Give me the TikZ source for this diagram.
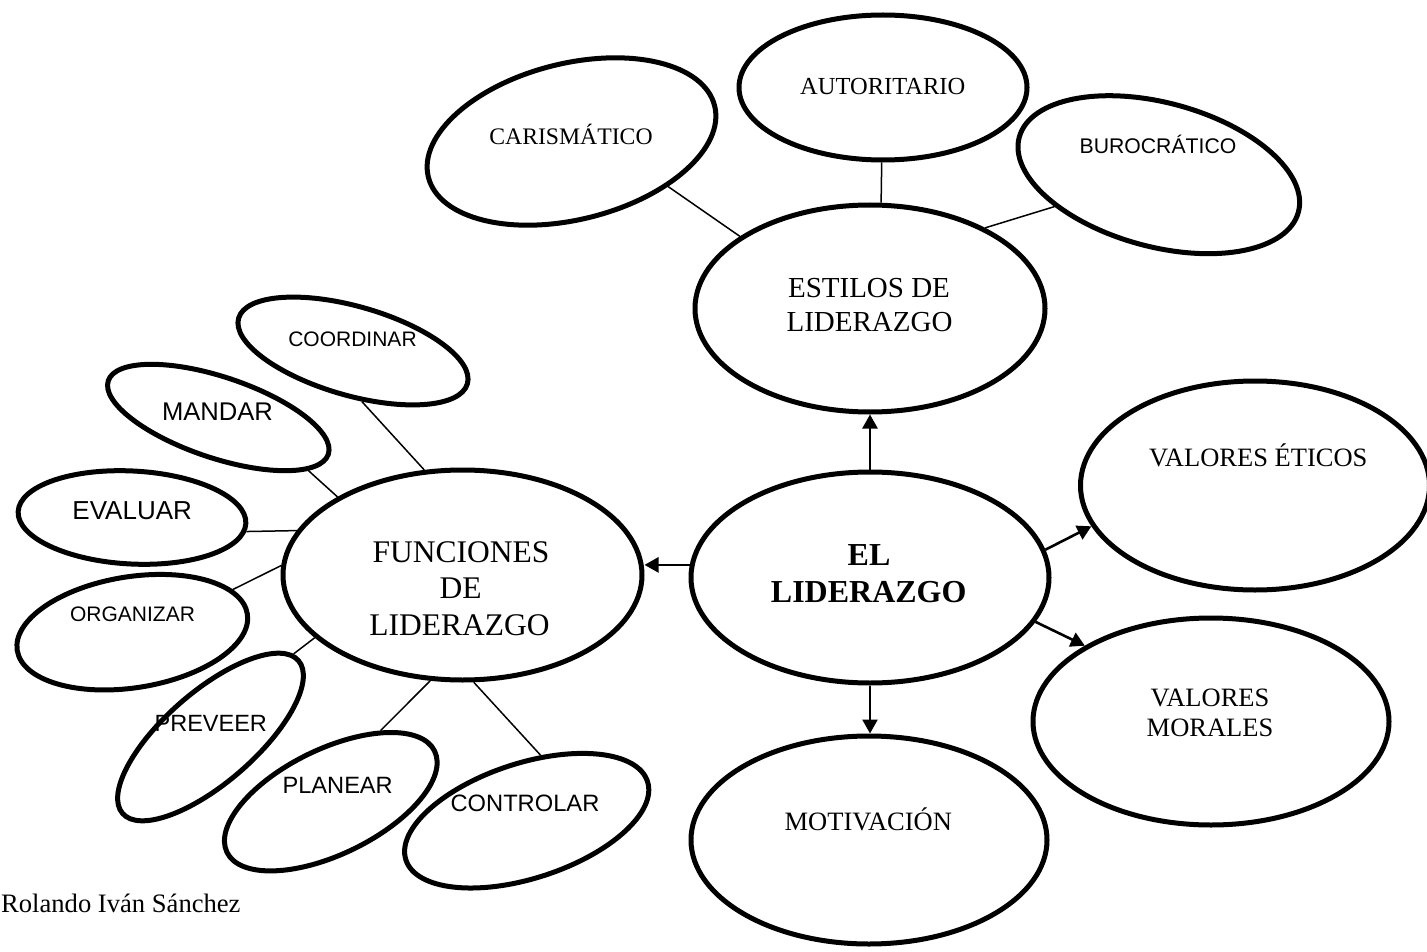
\documentclass[tikz,border=0pt]{standalone}
\usepackage{fontspec}
\setmainfont{Liberation Serif}
\setsansfont{Liberation Sans}
\usetikzlibrary{shapes.geometric,arrows.meta}
\tikzset{
  bubble/.style n args={3}{ellipse, draw, line width=5pt, inner sep=0pt,
    minimum width=#1pt, minimum height=#2pt, rotate=#3},
  seriflabel/.style={inner sep=0pt, anchor=base, font=\fontsize{#1}{#1}\selectfont},
  boldlabel/.style={inner sep=0pt, anchor=base, font=\bfseries\fontsize{#1}{#1}\selectfont},
  sanslabel/.style={inner sep=0pt, anchor=base, font=\sffamily\fontsize{#1}{#1}\selectfont},
  link/.style={line width=1.5pt},
  arrowlink/.style={line width=2.6pt, -{Triangle[length=14pt,width=15pt]}},
}
\begin{document}
\begin{tikzpicture}[x=1pt,y=-1pt]
\useasboundingbox (0,0) rectangle (1427,952);
\fill[white] (0,0) rectangle (1427,952);

% central topic and its four branches
\node[bubble={358}{211}{0}]   (el)  at (870,577.5) {};
\node[bubble={350}{207}{0}]   (est) at (870,308.5) {};
\node[bubble={359}{210}{0}]   (fun) at (462.5,575) {};
\node[bubble={349}{209}{0}]   (ve)  at (1255,485.5) {};
\node[bubble={356}{207}{0}]   (vm)  at (1211,721.5) {};
\node[bubble={356}{208}{0}]   (mot) at (869,840) {};

% leadership styles
\node[bubble={288}{145}{0}]   (aut) at (883,87.5) {};
\node[bubble={295}{156}{14}]  (car) at (571.5,141.5) {};
\node[bubble={289}{144}{-15}] (bur) at (1158.8,174.7) {};

% leadership functions
\node[bubble={238}{89}{-16}]   (coo) at (353,351) {};
\node[bubble={232}{81}{-18.5}] (man) at (218.3,417.5) {};
\node[bubble={228}{93}{-3}]    (eva) at (132,517.5) {};
\node[bubble={233}{111}{9}]    (org) at (132.3,632.2) {};
\node[bubble={233}{91}{41}]    (pre) at (210.5,737) {};
\node[bubble={231}{105}{26}]   (pla) at (330.8,801.7) {};
\node[bubble={254}{115}{18}]   (con) at (526.7,820.7) {};

% labels
\node[boldlabel=32] (tel1) at (869,565.5) {EL};
\node[boldlabel=32] (tel2) at (868.7,602.5) {LIDERAZGO};
\node[seriflabel=29] (test1) at (869,297.6) {ESTILOS DE};
\node[seriflabel=29] (test2) at (869.5,331.6) {LIDERAZGO};
\node[seriflabel=31.5] (tfun1) at (461,562.5) {FUNCIONES};
\node[seriflabel=31.5] (tfun2) at (460.5,598.5) {DE};
\node[seriflabel=31.5] (tfun3) at (459.5,635) {LIDERAZGO};
\node[seriflabel=26.5] (tve) at (1258.3,466.5) {VALORES ÉTICOS};
\node[seriflabel=26.5] (tvm1) at (1210,706) {VALORES};
\node[seriflabel=26.5] (tvm2) at (1210,736.5) {MORALES};
\node[seriflabel=26.5] (tmot) at (868.3,830.7) {MOTIVACIÓN};
\node[seriflabel=24.5] (taut) at (882.7,95) {AUTORITARIO};
\node[seriflabel=23.7] (tcar) at (571,145) {CARISMÁTICO};
\node[sanslabel=21.2] (tbur) at (1158,154) {BUROCRÁTICO};
\node[sanslabel=21] (tcoo) at (352.5,346.7) {COORDINAR};
\node[sanslabel=25.6] (tman) at (217.5,420) {MANDAR};
\node[sanslabel=26] (teva) at (132.2,519) {EVALUAR};
\node[sanslabel=21] (torg) at (132.5,621.7) {ORGANIZAR};
\node[sanslabel=23.5] (tpre) at (210.8,731.7) {PREVEER};
\node[sanslabel=23.6] (tpla) at (337.7,793.3) {PLANEAR};
\node[sanslabel=23.7] (tcon) at (525,811.7) {CONTROLAR};
\node[seriflabel=26.6, anchor=base west] (author) at (1,912.5) {Rolando Iván Sánchez};

% plain links
\draw[link] (car.-39) -- (est.151);
\draw[link] (aut.-91.5) -- (est.84);
\draw[link] (bur.-148.5) -- (est.35);
\draw[link] (coo.-64.5) -- (fun.110.6);
\draw[link] (man.-12) -- (fun.148.3);
\draw[link] (eva.-4) -- (fun.165.8);
\draw[link] (org.14) -- (fun.177.8);
\draw[link] (pre.4) -- (fun.-157);
\draw[link] (pla.29) -- (fun.-107.4);
\draw[link] (con.60) -- (fun.-84.5);

% arrows from the central topic
\draw[arrowlink] (el.north) -- (est.south);
\draw[arrowlink] (el.176.7) -- (el.176.7 -| fun.east);
\draw[arrowlink] (el.9.6) -- (ve.-166);
\draw[arrowlink] (el.-15.2) -- (vm.149.3);
\draw[arrowlink] (el.south) -- (el.south |- mot.north);
\end{tikzpicture}
\end{document}
